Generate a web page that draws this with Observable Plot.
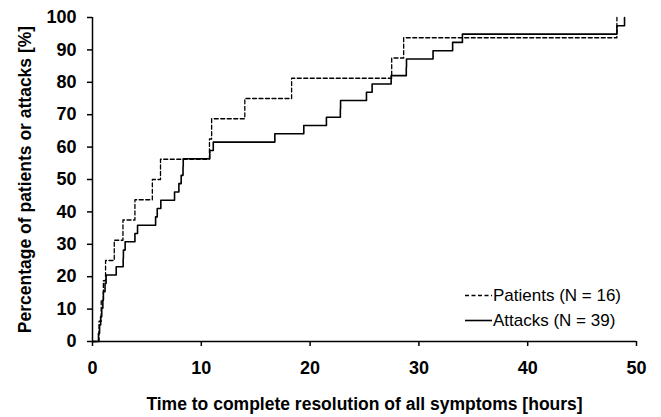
<!DOCTYPE html>
<html><head><meta charset="utf-8">
<script src="https://cdn.jsdelivr.net/npm/d3@7"></script>
<script src="https://cdn.jsdelivr.net/npm/@observablehq/plot@0.6"></script>
<style>
body{margin:0;background:#fff;}
#wrap{position:relative;width:661px;height:417px;font-family:"Liberation Sans",Arial,sans-serif;}
#wrap svg{font-family:"Liberation Sans",Arial,sans-serif;}
g[aria-label="x-axis tick label"] text, g[aria-label="y-axis tick label"] text{font-weight:bold;font-size:18px;}
g[aria-label="x-axis label"] text, g[aria-label="y-axis label"] text{font-weight:bold;font-size:17.5px;}
#legend{position:absolute;left:465px;top:283px;font-size:17px;color:#000;line-height:25px;}
#legend .row{display:flex;align-items:center;white-space:nowrap;}
#legend svg{width:28px;height:25px;margin-right:0px;}
</style></head><body><div id="wrap"><div id="legend"></div></div>
<script>
// Patients (N = 16): time [hours] at which cumulative percentage is reached
const patientHours = [0, 0.6, 0.8, 1.0, 1.2, 2.0, 2.8, 3.9, 5.5, 6.25, 10.75, 10.95, 14.0, 18.3, 27.5, 28.6, 48.2];
const patientPct   = [0, 6.25, 12.5, 18.75, 25, 31.25, 37.5, 43.75, 50, 56.25, 62.5, 68.75, 75, 81.25, 87.5, 93.75, 100];
// Attacks (N = 39)
const attackHours = [0, 0.55, 0.65, 0.75, 0.85, 0.95, 1.0, 1.15, 1.25, 2.18, 2.82, 2.84, 3.0, 3.9, 4.14, 5.8, 5.95, 6.28, 7.54, 7.94, 8.15, 8.32, 8.34, 10.78, 11.1, 16.76, 19.42, 21.5, 22.78, 22.8, 25.18, 25.7, 27.45, 28.84, 28.86, 31.3, 33.1, 34.0, 48.2, 48.9];
const attackPct   = [0, 2.56, 5.13, 7.69, 10.26, 12.82, 15.38, 17.95, 20.51, 23.08, 25.64, 28.21, 30.77, 33.33, 35.90, 38.46, 41.03, 43.59, 46.15, 48.72, 51.28, 53.85, 56.41, 58.97, 61.54, 64.10, 66.67, 69.23, 71.79, 74.36, 76.92, 79.49, 82.05, 84.62, 87.18, 89.74, 92.31, 94.87, 97.44, 100];
const seriesNames = ["Patients (N = 16)", "Attacks (N = 39)"];
const xTicks = [0, 10, 20, 30, 40, 50];
const yTicks = [0, 10, 20, 30, 40, 50, 60, 70, 80, 90, 100];

const patients = patientHours.map((h, i) => ({h, p: patientPct[i]}));
const attacks = attackHours.map((h, i) => ({h, p: attackPct[i]}));

const chart = Plot.plot({
  width: 661, height: 417,
  marginLeft: 92, marginRight: 25, marginTop: 17, marginBottom: 76,
  x: {domain: [0, 50]},
  y: {domain: [0, 100]},
  marks: [
    Plot.axisX({ticks: xTicks, tickSize: 5, tickPadding: 15, stroke: "#000", strokeWidth: 1.5, strokeOpacity: 1,
      label: "Time to complete resolution of all symptoms [hours]", labelAnchor: "center", labelArrow: "none", labelOffset: 68}),
    Plot.axisY({ticks: yTicks, tickSize: 5, tickPadding: 11, stroke: "#000", strokeWidth: 1.5, strokeOpacity: 1,
      label: "Percentage of patients or attacks [%]", labelAnchor: "center", labelArrow: "none", labelOffset: 74}),
    Plot.ruleY([0], {stroke: "#000", strokeWidth: 1.5}),
    Plot.ruleX([0], {stroke: "#000", strokeWidth: 1.5}),
    Plot.line(patients, {x: "h", y: "p", curve: "step-after", stroke: "#000", strokeWidth: 1.3, strokeDasharray: "4,2.5"}),
    Plot.line(attacks, {x: "h", y: "p", curve: "step-after", stroke: "#000", strokeWidth: 1.6})
  ]
});
document.getElementById("wrap").prepend(chart);

const legend = document.getElementById("legend");
const dashes = ["4,2.5", null];
seriesNames.forEach((name, i) => {
  const row = document.createElement("div");
  row.className = "row";
  row.innerHTML = `<svg viewBox="0 0 28 25"><line x1="0" x2="27" y1="12.5" y2="12.5" stroke="#000" stroke-width="${i ? 1.6 : 1.3}" ${dashes[i] ? `stroke-dasharray="${dashes[i]}"` : ""}/></svg><span>${name}</span>`;
  legend.appendChild(row);
});
</script>
</body></html>
